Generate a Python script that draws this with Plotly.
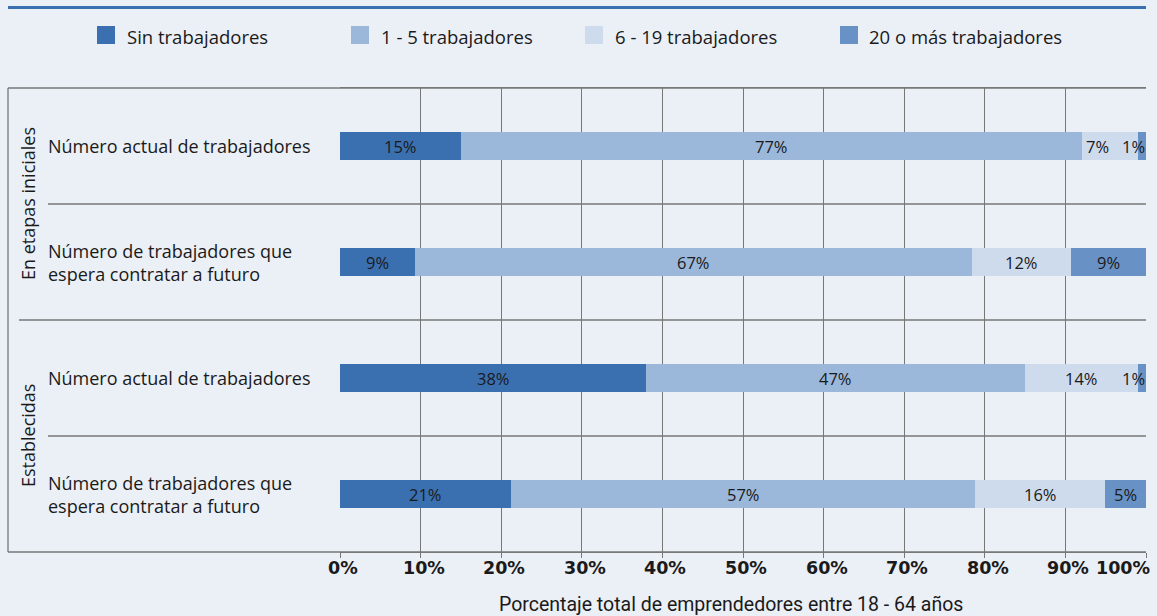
import plotly.graph_objects as go

# Data
groups = ["En etapas iniciales", "En etapas iniciales", "Establecidas", "Establecidas"]
categories = [
    "Número actual de trabajadores",
    "Número de trabajadores que<br>espera contratar a futuro",
    "Número actual de trabajadores",
    "Número de trabajadores que<br>espera contratar a futuro",
]
series_names = ["Sin trabajadores", "1 - 5 trabajadores", "6 - 19 trabajadores", "20 o más trabajadores"]
sin_trab = [15, 9, 38, 21]
uno_cinco = [77, 67, 47, 57]
seis_diecinueve = [7, 12, 14, 16]
veinte_mas = [1, 9, 1, 5]
x_ticks = [0, 10, 20, 30, 40, 50, 60, 70, 80, 90, 100]
x_title = "Porcentaje total de emprendedores entre 18 - 64 años"

series_values = [sin_trab, uno_cinco, seis_diecinueve, veinte_mas]
colors = ["#3a70b0", "#9bb8da", "#cedbed", "#6892c6"]

W, H = 1157, 616
L, R, T, B = 340, 1146, 88, 552
BG = "#ebeff6"
LINE = "#777777"
TXT = "#1a1a1a"
FONT = "Open Sans"


def px_x(p):
    return (p - L) / (R - L)


def px_y(p):
    return (B - p) / (B - T)


keys = [f"{g}|{i}" for i, g in enumerate(groups)]

fig = go.Figure()
for name, vals, col in zip(series_names, series_values, colors):
    fig.add_trace(go.Bar(
        x=vals, y=keys, orientation="h", name=name,
        marker=dict(color=col, line=dict(width=0)),
        showlegend=False, hoverinfo="skip",
    ))

annotations = []
shapes = []

# value labels inside the stacked segments (positions follow barnorm='percent')
for r, key in enumerate(keys):
    row = [s[r] for s in series_values]
    total = sum(row)
    cum = 0.0
    shares = [v * 100.0 / total for v in row]
    for j, (v, sh) in enumerate(zip(row, shares)):
        start = cum
        cum += sh
        if sh < 3:
            ax, anchor, xs = cum, "right", 1
        else:
            ax, anchor, xs = (start + cum) / 2, "center", 0
            if j + 1 < len(shares) and shares[j + 1] < 3 and sh < 10:
                xs = -12
        annotations.append(dict(
            x=ax, y=key, xref="x", yref="y", text=f"{v}%", showarrow=False,
            xanchor=anchor, xshift=xs, font=dict(family=FONT, size=16.5, color=TXT),
        ))

# category labels in the left panel
for key, cat in zip(keys, categories):
    annotations.append(dict(
        x=px_x(46), y=key, xref="paper", yref="y", text=cat, showarrow=False,
        xanchor="left", align="left", font=dict(family=FONT, size=18, color=TXT),
    ))

# group labels (rotated)
for gname, ypos in [("En etapas iniciales", 0.5), ("Establecidas", 2.5)]:
    annotations.append(dict(
        x=px_x(28), y=ypos, xref="paper", yref="y", text=gname, showarrow=False,
        textangle=-90, xanchor="center", yanchor="middle",
        font=dict(family=FONT, size=18, color=TXT),
    ))

# x tick labels (last one kept inside the frame)
for v in x_ticks:
    last = v == x_ticks[-1]
    annotations.append(dict(
        x=v, y=px_y(568), xref="x", yref="paper", text=f"{v}%", showarrow=False,
        xanchor="right" if last else "center", xshift=6 if last else 3,
        yanchor="middle",
        font=dict(family="DejaVu Sans", size=17.5, color=TXT, weight="bold"),
    ))

# axis title
annotations.append(dict(
    x=px_x(731), y=px_y(604), xref="paper", yref="paper", text=x_title,
    showarrow=False, xanchor="center", yanchor="middle",
    font=dict(family="Roboto", size=19.5, color=TXT),
))

# legend drawn as squares + labels
legend_marks = [97, 351, 585, 840]
legend_texts = [125, 379, 613, 867]
for name, col, mx, tx in zip(series_names, colors, legend_marks, legend_texts):
    shapes.append(dict(
        type="rect", xref="paper", yref="paper",
        x0=px_x(mx), x1=px_x(mx + 18), y0=px_y(44), y1=px_y(26),
        fillcolor=col, line=dict(width=0), layer="above",
    ))
    annotations.append(dict(
        x=px_x(tx), y=px_y(36), xref="paper", yref="paper", text=name,
        showarrow=False, xanchor="left", yanchor="middle",
        font=dict(family=FONT, size=18.5, color=TXT),
    ))

# top accent line
shapes.append(dict(type="line", xref="paper", yref="paper",
                   x0=px_x(8), x1=px_x(1146), y0=px_y(7.5), y1=px_y(7.5),
                   line=dict(color="#3a70b0", width=3)))
# outer frame of the label panel
for x0, y0, x1, y1 in [(8, T, 1146, T), (8, B, 1146, B), (8, T, 8, B)]:
    shapes.append(dict(type="line", xref="paper", yref="paper",
                       x0=px_x(x0), x1=px_x(x1), y0=px_y(y0), y1=px_y(y1),
                       line=dict(color=LINE, width=1.3)))
# row separators
for ypos, xstart in [(0.5, 48), (1.5, 19), (2.5, 48)]:
    shapes.append(dict(type="line", xref="paper", yref="y",
                       x0=px_x(xstart), x1=1, y0=ypos, y1=ypos,
                       line=dict(color=LINE, width=1.3)))

fig.update_layout(
    width=W, height=H,
    margin=dict(l=L, r=W - R, t=T, b=H - B),
    paper_bgcolor=BG, plot_bgcolor=BG,
    barmode="stack", barnorm="percent", bargap=0.767,
    annotations=annotations, shapes=shapes,
    xaxis=dict(
        range=[0, 100], tickvals=x_ticks, showticklabels=False,
        showgrid=True, gridcolor=LINE, gridwidth=1.3,
        showline=True, linecolor=LINE, linewidth=1.3, mirror=True,
        ticks="outside", ticklen=5, tickcolor=LINE, tickwidth=1.3,
        zeroline=False,
    ),
    yaxis=dict(
        categoryorder="array", categoryarray=keys, autorange="reversed",
        showticklabels=False, showgrid=False, zeroline=False, showline=False,
    ),
)

fig.write_html("out.html")
